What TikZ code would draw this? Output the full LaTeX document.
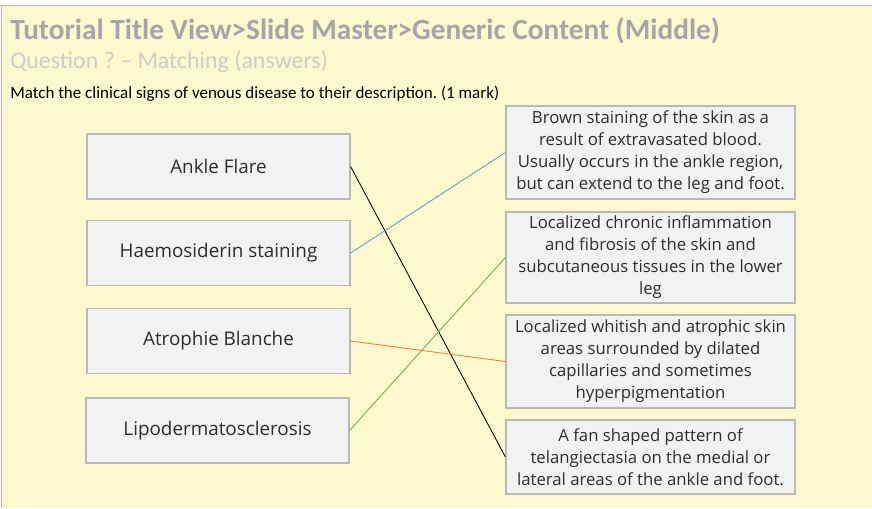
\documentclass[tikz,border=0pt]{standalone}
\usepackage{fontspec}
\setmainfont{Carlito}
\newfontfamily\boxfont{Open Sans}
\usetikzlibrary{positioning}
\frenchspacing
\definecolor{slidebg}{RGB}{252,249,206}
\definecolor{framegray}{RGB}{178,180,192}
\definecolor{titlegray}{RGB}{165,165,170}
\definecolor{subgray}{RGB}{205,205,205}
\definecolor{boxfill}{RGB}{242,242,244}
\definecolor{boxline}{RGB}{185,185,188}
\definecolor{boxtext}{RGB}{45,45,45}
\definecolor{lineblue}{RGB}{91,155,213}
\definecolor{lineorange}{RGB}{237,125,49}
\definecolor{linegreen}{RGB}{112,173,71}
\tikzset{
  signbox/.style={draw=boxline, fill=boxfill, line width=0.8pt, text=boxtext,
    minimum width=6.575cm, minimum height=1.625cm, font=\boxfont\fontsize{13.4}{15}\selectfont},
  descbox/.style={draw=boxline, fill=boxfill, line width=0.8pt, text=boxtext, align=center,
    minimum width=7.225cm, inner sep=2pt, font=\boxfont\fontsize{11.9}{15.6}\selectfont},
  matchline/.style={line width=0.6pt}
}

\begin{document}
\begin{tikzpicture}[x=0.025cm, y=-0.025cm]
\useasboundingbox (0,0) rectangle (872,508);
% slide background and frame
\fill[white] (0,0) rectangle (872,508);
\fill[slidebg] (2,6) rectangle (872,508);
\draw[framegray, line width=1.4pt] (0,5.5) -- (872,5.5);
\draw[framegray, line width=1.4pt] (1.5,5.5) -- (1.5,508);

% heading texts
\node[anchor=west, inner sep=0, text=titlegray, font=\bfseries\fontsize{20.8}{23}\selectfont] (title) at (10,31) {Tutorial Title View>Slide Master>Generic Content (Middle)};
\node[anchor=west, inner sep=0, text=subgray, font=\fontsize{17}{19}\selectfont] (subtitle) at (10,62) {Question ? -- Matching (answers)};
\node[anchor=west, inner sep=0, font=\fontsize{12.1}{14}\selectfont] (task) at (10,94) {Match the clinical signs of venous disease to their description. (1 mark)};

% LEFT: clinical signs
\node[signbox] (flare) at (218.5,166.5) {Ankle Flare};
\node[signbox] (haemo) at (218.5,253) {Haemosiderin staining};
\node[signbox] (atrophie) at (218.5,341) {Atrophie Blanche};
\node[signbox] (lipo) at (217.5,430.5) {Lipodermatosclerosis};

% RIGHT: descriptions
\node[descbox, minimum height=2.325cm] (dstain) at (650.5,152.5) {Brown staining of the skin as a\\result of extravasated blood.\\Usually occurs in the ankle region,\\but can extend to the leg and foot.};
\node[descbox, minimum height=2.275cm] (dlipo) at (650.5,257.5) {Localized chronic inflammation\\and fibrosis of the skin and\\subcutaneous tissues in the lower\\leg};
\node[descbox, minimum height=2.325cm] (datroph) at (650.5,361.5) {Localized whitish and atrophic skin\\areas surrounded by dilated\\capillaries and sometimes\\hyperpigmentation};
\node[descbox, minimum height=1.85cm] (dflare) at (650.5,457) {A fan shaped pattern of\\telangiectasia on the medial or\\lateral areas of the ankle and foot.};

% answer lines
\draw[matchline, black] (flare.east) -- (dflare.west);
\draw[matchline, lineblue] (haemo.east) -- (dstain.west);
\draw[matchline, lineorange] (atrophie.east) -- (datroph.west);
\draw[matchline, linegreen] (lipo.east) -- (dlipo.west);
\end{tikzpicture}
\end{document}
